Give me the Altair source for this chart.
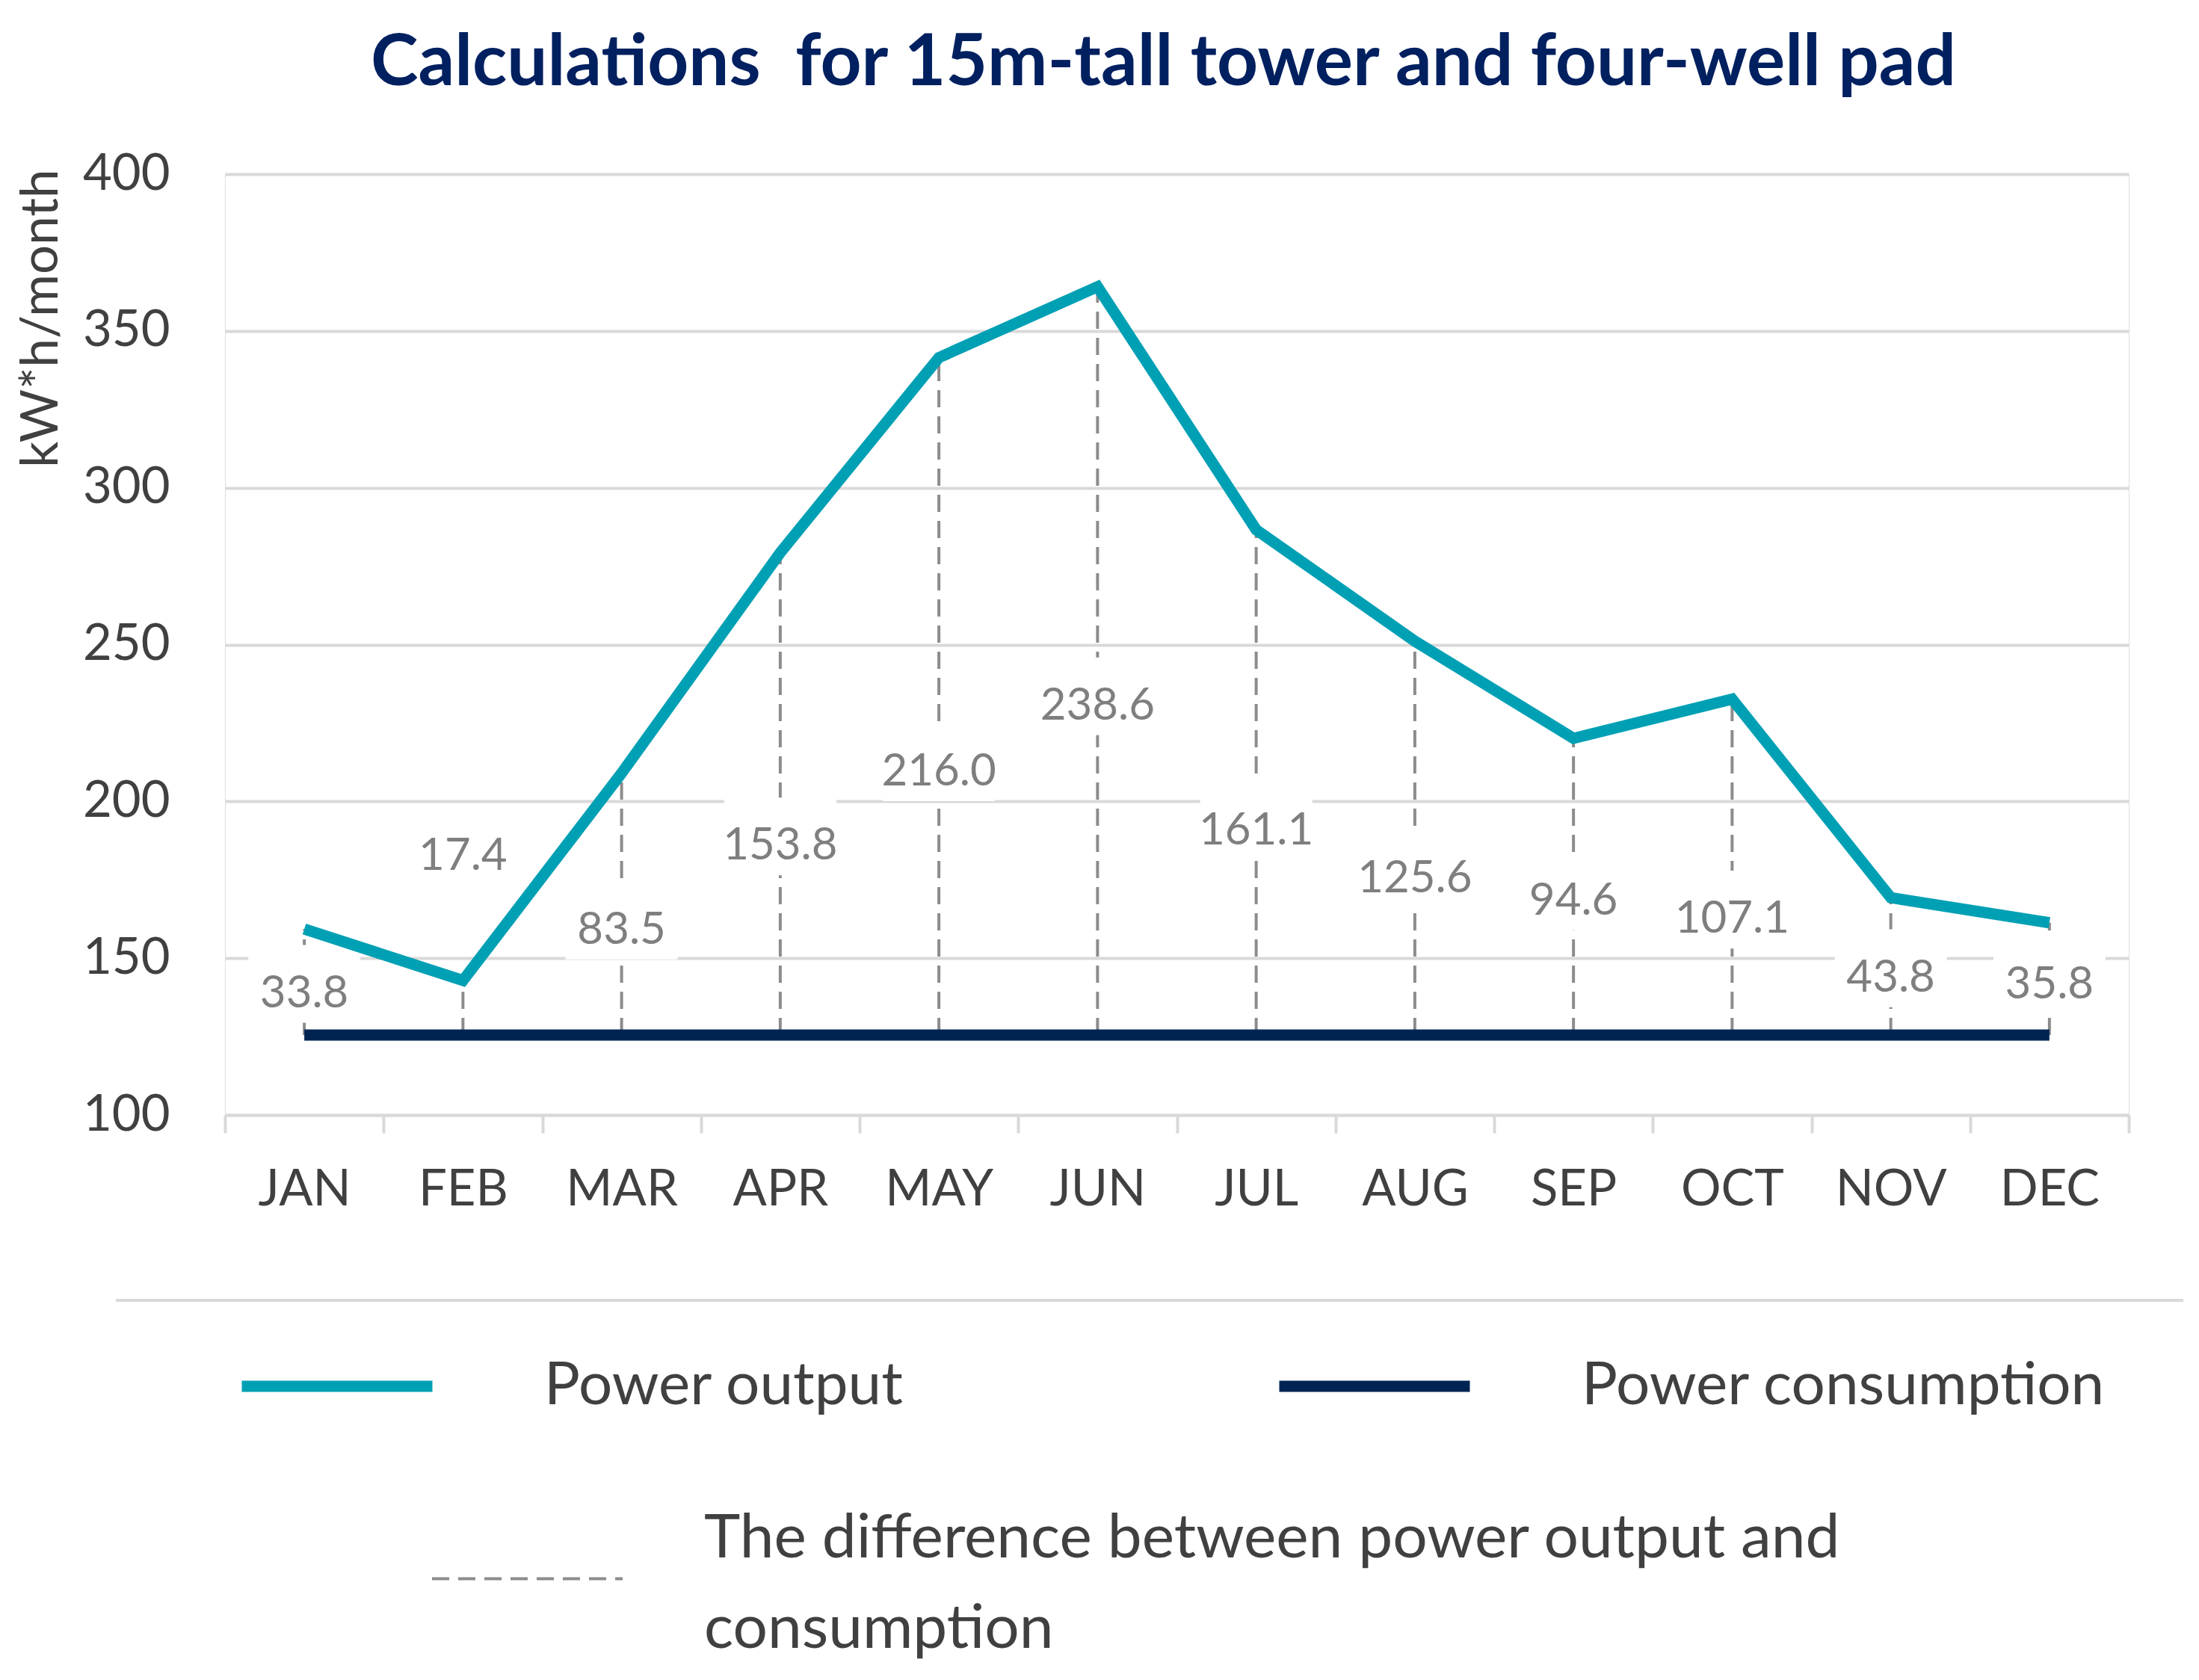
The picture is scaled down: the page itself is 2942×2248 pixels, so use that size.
import altair as alt
import pandas as pd

# ---------------- data ----------------
months = ["JAN", "FEB", "MAR", "APR", "MAY", "JUN", "JUL", "AUG", "SEP", "OCT", "NOV", "DEC"]
power_output = [159.3, 142.9, 209.0, 279.3, 341.5, 364.1, 286.6, 251.1, 220.1, 232.6, 169.3, 161.3]
power_consumption = [125.5, 125.5, 125.5, 125.5, 125.5, 125.5, 125.5, 125.5, 125.5, 125.5, 125.5, 125.5]
difference = [33.8, 17.4, 83.5, 153.8, 216.0, 238.6, 161.1, 125.6, 94.6, 107.1, 43.8, 35.8]
label_y = [139.4, 183.2, 159.6, 186.4, 210.1, 231.1, 191.3, 176.1, 168.9, 163.1, 144.4, 142.1]
y_ticks = [100, 150, 200, 250, 300, 350, 400]

series_names = ["Power output", "Power consumption"]
diff_name = "The difference between power output and consumption"
diff_title = ["The difference between power output and", "consumption"]
title_text = "Calculations\u00a0 for 15m-tall tower and four-well pad"
y_title = "kW*h/month"

TEAL = "#00A0B4"
NAVY = "#002452"
GRAY = "#8c8c8c"
GRID = "#d9d9d9"
TXT = "#404040"

lines_df = pd.DataFrame({
    "month": months + months,
    "value": power_output + power_consumption,
    "series": [series_names[0]] * len(months) + [series_names[1]] * len(months),
})
diff_df = pd.DataFrame({
    "month": months,
    "output": power_output,
    "consumption": power_consumption,
    "difference": difference,
    "label_y": label_y,
    "kind": [diff_name] * len(months),
})

x_axis = alt.Axis(title=None, labelAngle=0, tickBand="extent", grid=False,
                  domainColor=GRID, domainWidth=4, tickColor=GRID, tickWidth=4,
                  tickSize=24, labelPadding=43, labelFont="Lato", labelFontSize=67,
                  labelColor=TXT)
x_enc = alt.X("month:N", sort=months,
              scale=alt.Scale(type="band", paddingInner=0, paddingOuter=0),
              axis=x_axis)

y_scale = alt.Scale(domain=[100, 400], nice=False, zero=False)
y_axis = alt.Axis(values=y_ticks, title=y_title, domain=False, ticks=False, tickSize=0,
                  grid=True, gridColor=GRID, gridWidth=4, labelPadding=74,
                  labelFont="Lato", labelFontSize=67, labelColor=TXT,
                  titleFont="Lato", titleFontSize=69, titleFontWeight="normal",
                  titleColor=TXT, titleAngle=270, titleAlign="right",
                  titleBaseline="alphabetic", titleX=-225, titleY=-7)


def y_enc(field):
    return alt.Y(field, scale=y_scale, axis=y_axis, title=y_title)


rules = alt.Chart(diff_df).mark_rule(color=GRAY, strokeWidth=4).encode(
    x=x_enc,
    y=y_enc("consumption:Q"),
    y2="output:Q",
    strokeDash=alt.StrokeDash(
        "kind:N",
        scale=alt.Scale(domain=[diff_name], range=[[23, 12]]),
        legend=alt.Legend(
            orient="none", legendX=275, legendY=1750, title=diff_title,
            titleOrient="right", titleAnchor="end", titleBaseline="line-top",
            titleFont="Lato", titleFontSize=82, titleFontWeight="normal",
            titleColor=TXT, titleLineHeight=121, titlePadding=101, titleLimit=3000,
            labelExpr="''", labelOffset=0, symbolType="stroke", symbolSize=65025,
            symbolStrokeWidth=4, symbolStrokeColor=GRAY, padding=0,
        ),
    ),
)

boxes = alt.Chart(diff_df).transform_calculate(
    box_top="datum.label_y + 14.8", box_bot="datum.label_y - 10"
).mark_bar(width=150, color="white").encode(
    x=x_enc,
    y=y_enc("box_bot:Q"),
    y2="box_top:Q",
)

lines = alt.Chart(lines_df).mark_line(strokeWidth=15).encode(
    x=x_enc,
    y=y_enc("value:Q"),
    color=alt.Color(
        "series:N",
        scale=alt.Scale(domain=series_names, range=[TEAL, NAVY]),
        legend=alt.Legend(
            orient="none", legendX=15, legendY=1487, direction="horizontal",
            title=None, symbolType="stroke", symbolSize=65025, symbolStrokeWidth=15,
            labelFont="Lato", labelFontSize=80, labelColor=TXT, labelOffset=142,
            columnPadding=471, labelLimit=2000, padding=0,
        ),
    ),
)

labels = alt.Chart(diff_df).mark_text(
    font="Lato", fontSize=60, color="#7f7f7f", baseline="middle", dy=3
).encode(
    x=x_enc,
    y=y_enc("label_y:Q"),
    text=alt.Text("difference:Q", format=".1f"),
)

# light separator line above the legend area
separator = alt.Chart(pd.DataFrame({"sep": [0]})).mark_rule(
    color=GRID, strokeWidth=4
).encode(x=alt.value(-146), x2=alt.value(2620), y=alt.value(1507))

chart = alt.layer(rules, boxes, lines, labels, separator).properties(
    width=2547,
    height=1259,
    padding={"left": 293, "top": 225, "right": 80, "bottom": 740},
    autosize=alt.AutoSizeParams(type="none"),
    title=alt.TitleParams(
        text=title_text, font="Lato", fontSize=96, fontWeight="bold",
        color="#002060", anchor="middle", frame="group", offset=-11, dx=-18,
        baseline="alphabetic",
    ),
).configure_view(stroke=None).configure(font="Lato")

chart.save("out.html", embed_options={"renderer": "svg", "actions": False})
